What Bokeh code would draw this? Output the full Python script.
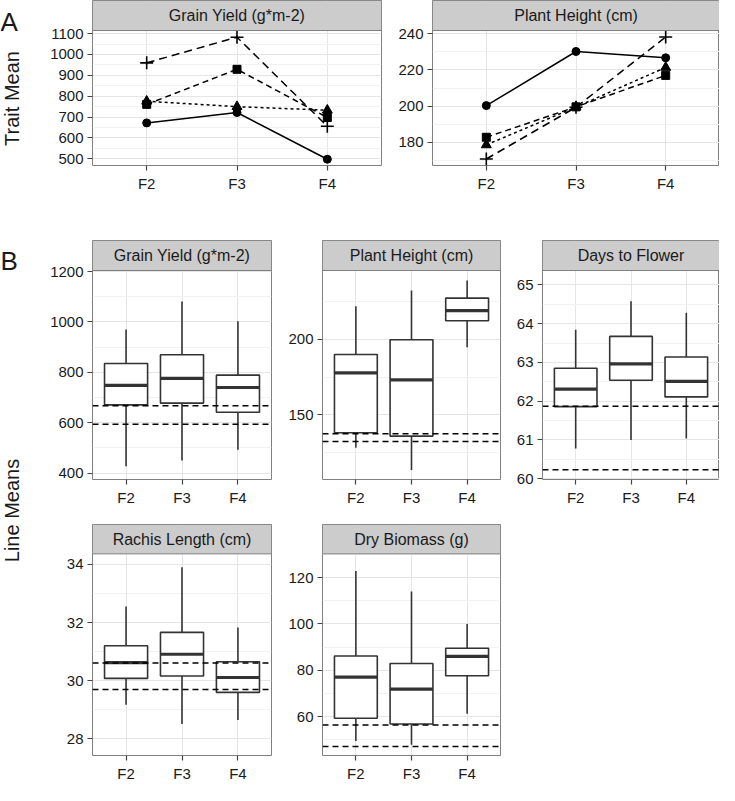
import numpy as np
from bokeh.plotting import figure
from bokeh.models import (Range1d, FactorRange, FixedTicker, Span, Label, ColumnDataSource,
                          BoxAnnotation)
from bokeh.transform import dodge
from bokeh.layouts import row, column
from bokeh.embed import file_html
from bokeh.resources import INLINE

FONT = "Liberation Sans"
GENS = ["F2", "F3", "F4"]

# ---- Panel A: trait means per generation, four selection groups ----
A_TITLES = ["Grain Yield (g*m-2)", "Plant Height (cm)"]
gy_circle = [672, 722, 498]
gy_triangle = [776, 750, 733]
gy_square = [761, 929, 698]
gy_plus = [960, 1083, 656]
ph_circle = [200.3, 230.2, 226.7]
ph_triangle = [178.6, 199.5, 221.4]
ph_square = [182.8, 199.6, 217.0]
ph_plus = [170.8, 199.4, 238.2]
gy_ticks = [500, 600, 700, 800, 900, 1000, 1100]
ph_ticks = [180, 200, 220, 240]

# ---- Panel B: line means distributions ----
B_TITLES = ["Grain Yield (g*m-2)", "Plant Height (cm)", "Days to Flower",
            "Rachis Length (cm)", "Dry Biomass (g)"]
gyb_low = [428, 450, 493]
gyb_q1 = [671, 678, 642]
gyb_med = [748, 776, 740]
gyb_q3 = [835, 870, 789]
gyb_high = [970, 1081, 1003]
gyb_ref = [668, 594]
gyb_ticks = [400, 600, 800, 1000, 1200]

phb_low = [128.4, 113.7, 194.7]
phb_q1 = [138.3, 136.1, 212.1]
phb_med = [177.8, 173.1, 218.8]
phb_q3 = [189.9, 199.6, 227.0]
phb_high = [221.6, 232.0, 238.6]
phb_ref = [137.7, 132.6]
phb_ticks = [150, 200]

dtf_low = [60.78, 61.00, 61.04]
dtf_q1 = [61.86, 62.54, 62.11]
dtf_med = [62.31, 62.96, 62.51]
dtf_q3 = [62.85, 63.67, 63.14]
dtf_high = [63.84, 64.58, 64.28]
dtf_ref = [61.87, 60.23]
dtf_ticks = [60, 61, 62, 63, 64, 65]

rl_low = [29.17, 28.51, 28.65]
rl_q1 = [30.08, 30.16, 29.60]
rl_med = [30.62, 30.91, 30.11]
rl_q3 = [31.20, 31.66, 30.65]
rl_high = [32.55, 33.90, 31.83]
rl_ref = [30.61, 29.70]
rl_ticks = [28, 30, 32, 34]

db_low = [49.5, 47.8, 61.2]
db_q1 = [59.3, 56.8, 77.6]
db_med = [77.0, 71.8, 86.0]
db_q3 = [86.1, 82.9, 89.5]
db_high = [122.8, 114.0, 99.9]
db_ref = [56.4, 47.1]
db_ticks = [60, 80, 100, 120]

TEXT = "#1a1a1a"
TICK = "#444444"
BORDER = "#7f7f7f"
STRIP_H = 30


def minor_of(ticks, lo, hi):
    step = ticks[1] - ticks[0]
    m = [ticks[0] - step / 2] + [t + step / 2 for t in ticks]
    return [v for v in m if lo <= v <= hi]


def panel_fig(title, width, left, right, frame_h, bottom, yr, ticks):
    lo, hi = yr
    top = hi + (hi - lo) * STRIP_H / frame_h
    p = figure(width=width, height=STRIP_H + frame_h + bottom,
               x_range=FactorRange(*GENS, range_padding=0.2 / 3, range_padding_units="percent"),
               y_range=Range1d(lo, top), toolbar_location=None, output_backend="svg",
               min_border_left=left, min_border_right=right,
               min_border_top=0, min_border_bottom=bottom)
    p.background_fill_color = "white"
    p.border_fill_color = "white"
    p.outline_line_color = BORDER
    p.outline_line_width = 1
    p.yaxis.ticker = FixedTicker(ticks=ticks, minor_ticks=minor_of(ticks, lo, hi))
    for ax in (p.xaxis, p.yaxis):
        ax.axis_line_color = None
        ax.major_tick_line_color = TICK
        ax.major_tick_line_width = 1.2
        ax.major_tick_out = 5
        ax.major_tick_in = 0
        ax.minor_tick_line_color = None
        ax.major_label_text_font = FONT
        ax.major_label_text_font_size = "15px"
        ax.major_label_text_color = TEXT
        ax.major_label_standoff = 4
    p.xgrid.grid_line_color = "#e5e5e5"
    p.ygrid.grid_line_color = "#e5e5e5"
    p.ygrid.minor_grid_line_color = "#f2f2f2"
    # facet strip occupying the top of the frame
    p.add_layout(BoxAnnotation(bottom=hi, fill_color="#cccccc", fill_alpha=1.0,
                               line_color=BORDER, line_width=1, line_alpha=1.0))
    p.add_layout(Label(x=1.5, y=(hi + top) / 2, text=title, text_align="center",
                       text_baseline="middle", text_font=FONT, text_font_size="16px",
                       text_color=TEXT))
    return p


def line_panel(title, width, left, right, yr, ticks, series):
    p = panel_fig(title, width, left, right, 135, 75, yr, ticks)
    styles = [("circle", "solid", 8), ("triangle", "3 3", 10), ("square", "6 4", 8), ("cross", "8 5", 13)]
    for vals, (mk, dash, sz) in zip(series, styles):
        p.line(x=GENS, y=vals, line_color="black", line_width=1.5, line_dash=dash)
        if mk == "cross":
            p.scatter(x=GENS, y=vals, marker=mk, size=sz, line_color="black", line_width=1.6)
        else:
            p.scatter(x=GENS, y=vals, marker=mk, size=sz, fill_color="black", line_color="black")
    return p


def box_panel(title, width, left, right, frame_h, bottom, yr, ticks, low, q1, med, q3, high, ref):
    p = panel_fig(title, width, left, right, frame_h, bottom, yr, ticks)
    src = ColumnDataSource(dict(x=GENS, low=low, q1=q1, med=med, q3=q3, high=high))
    p.segment(x0="x", y0="low", x1="x", y1="q1", source=src, line_color="#333333", line_width=1.6)
    p.segment(x0="x", y0="q3", x1="x", y1="high", source=src, line_color="#333333", line_width=1.6)
    p.vbar(x="x", bottom="q1", top="q3", width=0.77, source=src, fill_color="white",
           line_color="#333333", line_width=1.6)
    p.segment(x0=dodge("x", -0.385, range=p.x_range), y0="med",
              x1=dodge("x", 0.385, range=p.x_range), y1="med",
              source=src, line_color="#333333", line_width=3.2)
    for r in ref:
        p.add_layout(Span(location=r, dimension="width", line_color="black",
                          line_width=1.5, line_dash="6 4"))
    return p


TOTAL_H = 784

# label column
lab = figure(width=40, height=TOTAL_H, x_range=Range1d(0, 40), y_range=Range1d(TOTAL_H, 0),
             x_axis_location=None, y_axis_location=None, min_border=0,
             toolbar_location=None, output_backend="svg")
lab.outline_line_color = None
lab.grid.visible = False
lab.add_layout(Label(x=0, y=21, text="A", text_font=FONT, text_font_size="26px",
                     text_color=TEXT, text_baseline="alphabetic", text_align="left"))
lab.add_layout(Label(x=0, y=260, text="B", text_font=FONT, text_font_size="26px",
                     text_color=TEXT, text_baseline="alphabetic", text_align="left"))
lab.add_layout(Label(x=11, y=98, text="Trait Mean", text_font=FONT, text_font_size="20px",
                     text_color=TEXT, text_baseline="middle", text_align="center", angle=np.pi / 2))
lab.add_layout(Label(x=11, y=510, text="Line Means", text_font=FONT, text_font_size="20px",
                     text_color=TEXT, text_baseline="middle", text_align="center", angle=np.pi / 2))

rowA = row(
    line_panel(A_TITLES[0], 347, 52, 6, (468, 1115), gy_ticks,
               [gy_circle, gy_triangle, gy_square, gy_plus]),
    line_panel(A_TITLES[1], 332, 45, 0, (167.2, 241.8), ph_ticks,
               [ph_circle, ph_triangle, ph_square, ph_plus]),
)

rowB1 = row(
    box_panel(B_TITLES[0], 237, 52, 6, 209, 45, (375, 1204), gyb_ticks,
              gyb_low, gyb_q1, gyb_med, gyb_q3, gyb_high, gyb_ref),
    box_panel(B_TITLES[1], 229, 45, 6, 209, 45, (107.5, 245.2), phb_ticks,
              phb_low, phb_q1, phb_med, phb_q3, phb_high, phb_ref),
    box_panel(B_TITLES[2], 213, 36, 0, 209, 45, (59.98, 65.37), dtf_ticks,
              dtf_low, dtf_q1, dtf_med, dtf_q3, dtf_high, dtf_ref),
)

rowB2 = row(
    box_panel(B_TITLES[3], 237, 52, 6, 206, 24, (27.43, 34.36), rl_ticks,
              rl_low, rl_q1, rl_med, rl_q3, rl_high, rl_ref),
    box_panel(B_TITLES[4], 229, 45, 6, 206, 24, (43.2, 130.2), db_ticks,
              db_low, db_q1, db_med, db_q3, db_high, db_ref),
)

layout = row(lab, column(rowA, rowB1, rowB2))

open("out.html", "w").write(file_html(layout, INLINE))
